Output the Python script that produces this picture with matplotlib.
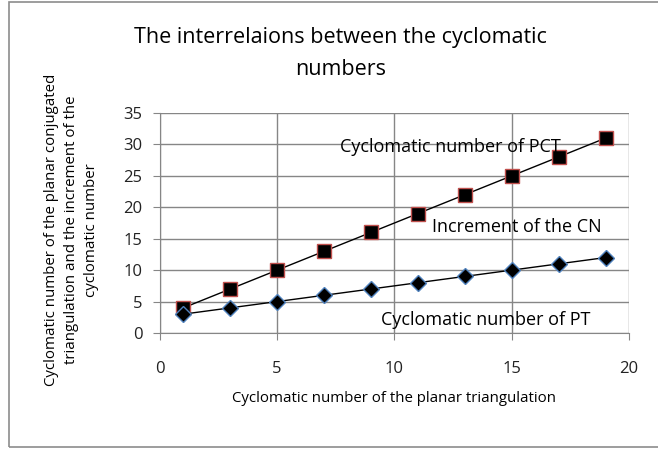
# Interrelations between cyclomatic numbers (PT vs PCT)

import matplotlib
matplotlib.use("Agg")
import matplotlib.pyplot as plt
from matplotlib.patches import Rectangle

x_pt = [1, 3, 5, 7, 9, 11, 13, 15, 17, 19]
cn_pct = [4, 7, 10, 13, 16, 19, 22, 25, 28, 31]
cn_pt = [3, 4, 5, 6, 7, 8, 9, 10, 11, 12]

plt.rcParams['font.family'] = ['Open Sans', 'DejaVu Sans']

fig = plt.figure(figsize=(6.58, 4.5), dpi=100)
ax = fig.add_axes([0.243, 0.26, 0.713, 0.489])

# chart border
fig.patches.append(Rectangle((0.013, 0.006), 0.99, 0.99, transform=fig.transFigure,
                             fill=False, edgecolor='#8c8c8c', linewidth=1.2))

ax.plot(x_pt, cn_pct, color='black', linewidth=1, marker='s', markersize=10,
        markerfacecolor='black', markeredgecolor='#c0504d', markeredgewidth=1, zorder=3)
ax.plot(x_pt, cn_pt, color='black', linewidth=1, marker='D', markersize=8,
        markerfacecolor='black', markeredgecolor='#4f81bd', markeredgewidth=1, zorder=3)

ax.set_xlim(0, 20)
ax.set_ylim(0, 35)
ax.set_xticks(range(0, 21, 5))
ax.set_yticks(range(0, 36, 5))
ax.grid(True, color='#868686', linewidth=1)
ax.set_axisbelow(True)
for side in ['top', 'right']:
    ax.spines[side].set_visible(False)
ax.spines['left'].set_color('#868686')
ax.spines['bottom'].set_color('#868686')
ax.tick_params(axis='both', colors='#868686', labelcolor='#222222', labelsize=12, length=5)
ax.tick_params(axis='x', pad=15)
ax.tick_params(axis='y', pad=7.5)

ax.text(12.4, 29.6, "Cyclomatic number of PCT", ha='center', va='center', fontsize=13)
ax.text(15.2, 16.9, "Increment of the CN", ha='center', va='center', fontsize=13)
ax.text(13.9, 2.1, "Cyclomatic number of PT", ha='center', va='center', fontsize=13)

fig.text(0.517, 0.881, "The interrelaions between the cyclomatic\nnumbers", ha='center', va='center',
         fontsize=15.5, linespacing=1.7)
ax.set_xlabel("Cyclomatic number of the planar triangulation", fontsize=10.8, labelpad=10)
fig.text(0.108, 0.489, "Cyclomatic number of the planar conjugated\ntriangulation and the increment of the\ncyclomatic number",
         rotation=90, ha='center', va='center', fontsize=10.8, linespacing=1.45)

fig.savefig("out.png", dpi=100)
